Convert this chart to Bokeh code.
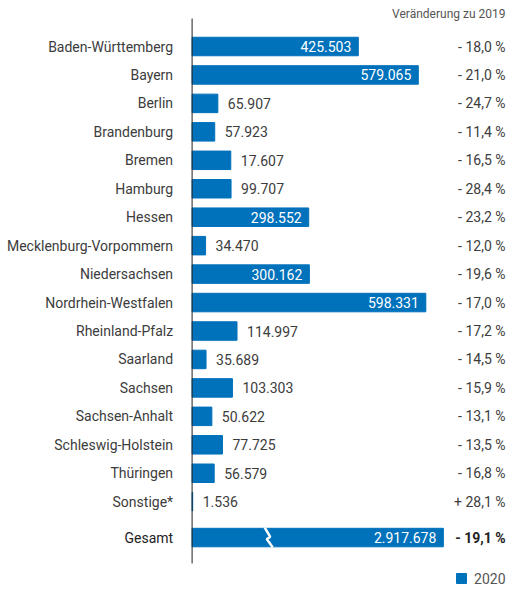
from bokeh.plotting import figure
from bokeh.models import Range1d, ColumnDataSource
from bokeh.core.properties import value
from bokeh.embed import file_html
from bokeh.resources import INLINE

states = ["Baden-Württemberg", "Bayern", "Berlin", "Brandenburg", "Bremen", "Hamburg",
          "Hessen", "Mecklenburg-Vorpommern", "Niedersachsen", "Nordrhein-Westfalen",
          "Rheinland-Pfalz", "Saarland", "Sachsen", "Sachsen-Anhalt", "Schleswig-Holstein",
          "Thüringen", "Sonstige*"]
# printed values (labels)
values_2020 = [425503, 579065, 65907, 57923, 17607, 99707, 298552, 34470, 300162,
               598331, 114997, 35689, 103303, 50622, 77725, 56579, 1536]
# bar lengths as drawn in the picture (Bremen's bar is drawn about as long as Hamburg's)
bar_lengths = [425503, 579065, 65907, 57923, 99000, 99707, 298552, 34470, 300162,
               598331, 114997, 35689, 103303, 50622, 77725, 56579, 1536]
change_2019 = [-18.0, -21.0, -24.7, -11.4, -16.5, -28.4, -23.2, -12.0, -19.6,
               -17.0, -17.2, -14.5, -15.9, -13.1, -13.5, -16.8, 28.1]
total_label = "Gesamt"
total_2020 = 2917678
total_change = -19.1
series_name = "2020"
header = "Veränderung zu 2019"

BLUE = "#0071bb"
TXT = "#3c3c3c"
FONT = value("Roboto")
FS = "14px"
K = 2560.0           # data units per pixel
ROW = 28.45          # pixels per row
X0 = 191.6           # pixel position of the zero line
Y0 = 46.0            # pixel position of the first row

def de_num(v):
    return f"{v:,}".replace(",", ".")

def de_pct(c):
    sign = "+" if c > 0 else "-"
    return f"{sign} {abs(c):.1f} %".replace(".", ",")

n = len(states)
ys = list(range(n))
y_total = n + 0.26

W, H = 509, 590
p = figure(width=W, height=H, output_backend="svg", toolbar_location=None,
           x_range=Range1d(-X0 * K, (W - X0) * K),
           y_range=Range1d((H - Y0) / ROW, -Y0 / ROW),
           min_border=0, outline_line_color=None, border_fill_color="white")
p.axis.visible = False
p.grid.visible = False

bh = 18.5 / ROW
# state bars
p.hbar(y=ys, right=bar_lengths, left=0, height=bh, color=BLUE)
# total bar (axis broken)
total_disp = max(values_2020) * 1.075
p.hbar(y=[y_total], right=[total_disp], left=0, height=bh, color=BLUE)
brk = total_disp * 0.305
p.line(x=[brk - 4 * K, brk + 1.5 * K, brk - 2 * K, brk + 4 * K],
       y=[y_total - bh / 2 - 0.02, y_total - 0.02, y_total + 0.05, y_total + bh / 2 + 0.02],
       line_color="white", line_width=2.5)

# axis line
p.segment(x0=[0], x1=[0], y0=[-0.984], y1=[y_total + 0.91], line_color="#222", line_width=1)

# category labels
p.text(x=[0] * n, y=ys, text=states, x_offset=-19, text_align="right",
       text_baseline="middle", text_font=FONT, text_font_size=FS, text_color=TXT)
p.text(x=[0], y=[y_total], text=[total_label], x_offset=-19, text_align="right",
       text_baseline="middle", text_font=FONT, text_font_size=FS, text_color="#222")

# value labels
inside = [v >= 200000 for v in bar_lengths]
src_in = ColumnDataSource(dict(x=[b for b, i in zip(bar_lengths, inside) if i],
                               y=[y for y, i in zip(ys, inside) if i],
                               t=[de_num(v) for v, i in zip(values_2020, inside) if i]))
src_out = ColumnDataSource(dict(x=[b for b, i in zip(bar_lengths, inside) if not i],
                                y=[y for y, i in zip(ys, inside) if not i],
                                t=[de_num(v) for v, i in zip(values_2020, inside) if not i]))
p.text(x="x", y="y", text="t", source=src_in, x_offset=-7, text_align="right",
       text_baseline="middle", text_font=FONT, text_font_size=FS, text_color="white")
p.text(x="x", y="y", text="t", source=src_out, x_offset=10, text_align="left",
       text_baseline="middle", text_font=FONT, text_font_size=FS, text_color=TXT)
p.text(x=[total_disp], y=[y_total], text=[de_num(total_2020)], x_offset=-7,
       text_align="right", text_baseline="middle", text_font=FONT,
       text_font_size=FS, text_color="white")

# percent column
xr = (505 - X0) * K
p.text(x=[xr] * n, y=ys, text=[de_pct(c) for c in change_2019],
       text_align="right", text_baseline="middle", text_font=FONT,
       text_font_size=FS, text_color=TXT)
p.text(x=[xr], y=[y_total], text=[de_pct(total_change)],
       text_align="right", text_baseline="middle", text_font=FONT,
       text_font_size=FS, text_color="#222", text_font_style="bold")
p.text(x=[xr], y=[-33 / ROW], text=[header], text_align="right",
       text_baseline="middle", text_font=FONT, text_font_size="12px", text_color="#555")

# legend
y_leg = (578 - Y0) / ROW
p.scatter(x=[xr - 44 * K], y=[y_leg], marker="square", size=10, color=BLUE)
p.text(x=[xr], y=[y_leg], text=[series_name], text_align="right",
       text_baseline="middle", text_font=FONT, text_font_size=FS, text_color="#555")

open("out.html", "w").write(file_html(p, INLINE))
